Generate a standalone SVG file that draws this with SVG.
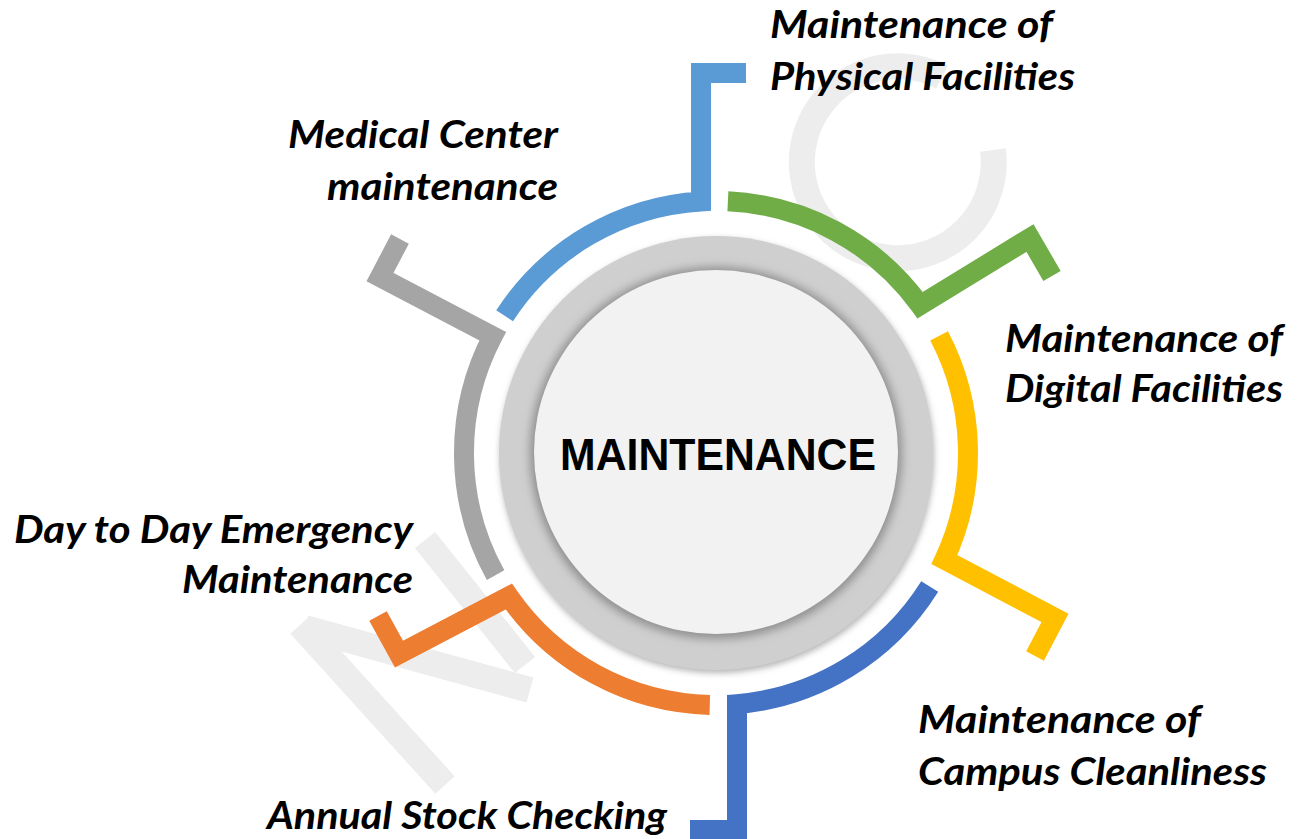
<svg xmlns="http://www.w3.org/2000/svg" width="1306" height="839" viewBox="0 0 1306 839">
  <defs>
    <style>
      .lbl { font-family: Lato, "Open Sans", "Liberation Sans", sans-serif; font-weight: 700; font-style: italic; font-size: 38px; fill: #000; }
      .ctr { font-family: "Liberation Sans", Arial, sans-serif; font-weight: 700; font-size: 44px; fill: #000; }
      .arc { fill: none; stroke-width: 20; stroke-linejoin: miter; stroke-linecap: butt; stroke-miterlimit: 4; }
      .wm { fill: none; stroke: #ededed; stroke-width: 26; stroke-linecap: butt; }
    </style>
    <filter id="soft" x="-20%" y="-20%" width="140%" height="140%">
      <feGaussianBlur stdDeviation="5"/>
    </filter>
    <filter id="soft2" x="-20%" y="-20%" width="140%" height="140%">
      <feGaussianBlur stdDeviation="3"/>
    </filter>
  </defs>
  <rect x="0" y="0" width="1306" height="839" fill="#ffffff"/>

  <!-- faint watermark -->
  <g id="watermark">
    <path class="wm" d="M993,150 A96,96 0 1 1 942,77"/>
    <path class="wm" d="M300,625 L445,785"/>
    <path class="wm" d="M305,628 L530,690"/>
    <path class="wm" d="M425,540 L525,665"/>
  </g>

  <!-- connectors: coloured arcs with tails -->
  <g id="connectors">
    <path class="arc" stroke="#5B9BD5" d="M504.6,315.8 A252,252 0 0 1 701,201.45 L701,73 L746,73"/>
    <path class="arc" stroke="#70AD47" d="M727.9,201.3 A252,252 0 0 1 920.1,305.2 L1030,238 L1052,276"/>
    <path class="arc" stroke="#FFC000" d="M939.1,335.9 A252,252 0 0 1 944.4,559.5 L1055,618 L1035,656"/>
    <path class="arc" stroke="#4472C4" d="M929.7,586.5 A252,252 0 0 1 737,704.1 L737,830 L690,830"/>
    <path class="arc" stroke="#ED7D31" d="M709.8,704.9 A252,252 0 0 1 508.8,596.5 L399,654 L378,616"/>
    <path class="arc" stroke="#A5A5A5" d="M495.6,575.2 A252,252 0 0 1 492.7,336.2 L380,277 L400,239"/>
  </g>

  <!-- centre node -->
  <g id="node-center">
    <circle cx="717" cy="456" r="217" fill="#b5b5b5" filter="url(#soft2)"/>
    <circle cx="716" cy="453" r="217" fill="#d0cfd0"/>
    <circle cx="716" cy="453" r="186" fill="#8f8f8f" filter="url(#soft)"/>
    <circle cx="716" cy="452" r="182" fill="#f2f2f2"/>
    <text class="ctr" x="718" y="470" text-anchor="middle" textLength="316" lengthAdjust="spacingAndGlyphs">MAINTENANCE</text>
  </g>

  <g id="node-physical">
    <text class="lbl" x="770" y="38" textLength="283" lengthAdjust="spacingAndGlyphs">Maintenance of</text>
    <text class="lbl" x="770" y="90" textLength="305" lengthAdjust="spacingAndGlyphs">Physical Facilities</text>
  </g>

  <g id="node-medical">
    <text class="lbl" x="288" y="148" textLength="270" lengthAdjust="spacingAndGlyphs">Medical Center</text>
    <text class="lbl" x="327" y="200" textLength="231" lengthAdjust="spacingAndGlyphs">maintenance</text>
  </g>

  <g id="node-digital">
    <text class="lbl" x="1005" y="352" textLength="278" lengthAdjust="spacingAndGlyphs">Maintenance of</text>
    <text class="lbl" x="1005" y="402" textLength="278" lengthAdjust="spacingAndGlyphs">Digital Facilities</text>
  </g>

  <g id="node-emergency">
    <text class="lbl" x="14" y="543" textLength="399" lengthAdjust="spacingAndGlyphs">Day to Day Emergency</text>
    <text class="lbl" x="182" y="593" textLength="231" lengthAdjust="spacingAndGlyphs">Maintenance</text>
  </g>

  <g id="node-cleanliness">
    <text class="lbl" x="918" y="733" textLength="283" lengthAdjust="spacingAndGlyphs">Maintenance of</text>
    <text class="lbl" x="918" y="785" textLength="349" lengthAdjust="spacingAndGlyphs">Campus Cleanliness</text>
  </g>

  <g id="node-stock">
    <text class="lbl" x="267" y="829" textLength="400" lengthAdjust="spacingAndGlyphs">Annual Stock Checking</text>
  </g>
</svg>
